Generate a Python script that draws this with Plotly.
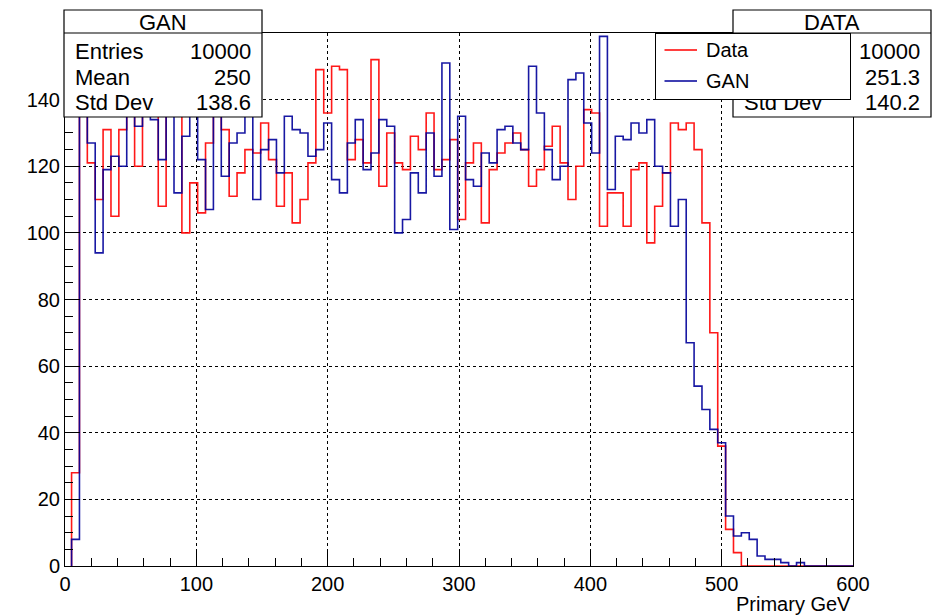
import plotly.graph_objects as go

# ---- data (100 bins of width 6 GeV, first edge at 5 GeV) ----
bin_start = 5
bin_width = 6
data_counts = [28, 140, 121, 110, 131, 105, 131, 145, 120, 138,
               137, 108, 142, 139, 100, 115, 106, 127, 140, 131,
               111, 118, 125, 124, 133, 122, 108, 118, 103, 110,
               121, 149, 136, 150, 149, 122, 128, 121, 152, 114,
               130, 121, 119, 129, 125, 136, 119, 122, 128, 104,
               121, 127, 103, 119, 124, 127, 130, 125, 114, 119,
               126, 132, 121, 110, 120, 137, 136, 102, 112, 112,
               102, 119, 121, 97, 108, 118, 133, 131, 133, 125,
               103, 70, 36, 11, 4, 0, 0, 0, 0, 0,
               0, 0, 0, 0, 0, 0, 0, 0, 0, 0]
gan_counts = [8, 141, 127, 94, 119, 123, 120, 138, 132, 143,
              134, 122, 139, 112, 129, 137, 122, 107, 140, 117,
              127, 130, 138, 110, 125, 128, 118, 135, 131, 130,
              123, 125, 133, 116, 112, 127, 134, 119, 124, 134,
              132, 100, 104, 118, 112, 130, 117, 151, 101, 135,
              116, 114, 124, 121, 131, 132, 127, 125, 150, 136,
              125, 116, 120, 146, 148, 133, 124, 159, 113, 129,
              128, 133, 130, 134, 120, 118, 102, 110, 67, 54,
              47, 41, 37, 15, 9, 10, 8, 3, 2, 2,
              1, 0, 1, 0, 0, 0, 0, 0, 0, 0]

x_ticks = [0, 100, 200, 300, 400, 500, 600]
y_ticks = [0, 20, 40, 60, 80, 100, 120, 140]

gan_stats = [("Entries", "10000"), ("Mean", "250"), ("Std Dev", "138.6")]
# in the DATA box the "Entries" and "Mean" labels sit fully behind the legend
data_stats = [("", "10000"), ("", "251.3"), ("Std Dev", "140.2")]

FONT = "Liberation Sans, Arial, Helvetica, sans-serif"
RED = "#ff0000"
BLUE = "#00009a"

edges = [bin_start + bin_width * i for i in range(len(data_counts) + 1)]


def step_xy(counts):
    xs = [edges[0]] + edges[:-1] + [edges[-1], edges[-1]]
    ys = [0] + list(counts) + [counts[-1], 0]
    return xs, ys


fig = go.Figure()
for counts, col, name in [(data_counts, RED, "Data"), (gan_counts, BLUE, "GAN")]:
    xs, ys = step_xy(counts)
    fig.add_trace(go.Scatter(x=xs, y=ys, mode="lines", line=dict(shape="hv", color=col, width=1.6),
                             name=name, showlegend=False, opacity=0.9))

# plot area in pixels
L, R, T, B = 65, 853, 33, 566
W, H = 933, 615


def XP(px):
    return (px - L) / (R - L)


def YP(py):
    return (B - py) / (B - T)


fig.update_layout(
    width=W, height=H,
    margin=dict(l=L, r=W - R, t=T, b=H - B),
    paper_bgcolor="white", plot_bgcolor="white",
    font=dict(family=FONT, size=20, color="black"),
    showlegend=False,
)
fig.update_xaxes(range=[0, 600], tickvals=x_ticks, ticks="inside", ticklen=15, tickcolor="black",
                 tickwidth=1, showline=True, linecolor="black", linewidth=1, mirror=True,
                 showgrid=True, gridcolor="black", gridwidth=1, griddash="dot", zeroline=False,
                 minor=dict(dtick=20, ticks="inside", ticklen=8, tickcolor="black", showgrid=False),
                 tickfont=dict(size=20, family=FONT))
fig.update_yaxes(range=[0, 160], tickvals=y_ticks, ticks="inside", ticklen=15, tickcolor="black",
                 tickwidth=1, showline=True, linecolor="black", linewidth=1, mirror=True,
                 showgrid=True, gridcolor="black", gridwidth=1, griddash="dot", zeroline=False,
                 minor=dict(dtick=5, ticks="inside", ticklen=8, tickcolor="black", showgrid=False),
                 tickfont=dict(size=20, family=FONT))

shapes = []
annots = []


def stat_box(x0, x1, y0, y1, ydiv, title, rows, annots_list):
    shapes.append(dict(type="rect", xref="paper", yref="paper", x0=XP(x0), x1=XP(x1), y0=YP(y1), y1=YP(y0),
                       fillcolor="white", line=dict(color="black", width=1.2), layer="above"))
    shapes.append(dict(type="line", xref="paper", yref="paper", x0=XP(x0), x1=XP(x1), y0=YP(ydiv), y1=YP(ydiv),
                       line=dict(color="black", width=1.2), layer="above"))
    annots_list.append(dict(xref="paper", yref="paper", x=XP((x0 + x1) / 2), y=YP((y0 + ydiv) / 2 + 1),
                            text=title, showarrow=False, xanchor="center", yanchor="middle",
                            font=dict(size=22, family=FONT, color="black")))
    for i, (lab, val) in enumerate(rows):
        yc = 51.5 + 25.5 * i
        if lab:
            annots_list.append(dict(xref="paper", yref="paper", x=XP(x0 + 9), y=YP(yc), text=lab,
                                    showarrow=False, xanchor="left", yanchor="middle",
                                    font=dict(size=22, family=FONT, color="black")))
        annots_list.append(dict(xref="paper", yref="paper", x=XP(x1 - 9), y=YP(yc), text=val, showarrow=False,
                                xanchor="right", yanchor="middle", font=dict(size=22, family=FONT, color="black")))


stat_box(64, 262, 10, 117, 33, "GAN", gan_stats, annots)
stat_box(733, 931, 10, 117, 33, "DATA", data_stats, annots)

# legend box drawn as an annotation so it covers the DATA box text beneath it
lx0, lx1, ly0, ly1 = 655, 851, 33, 100
annots.append(dict(xref="paper", yref="paper", x=XP((lx0 + lx1) / 2), y=YP((ly0 + ly1) / 2), text=" ",
                   showarrow=False, xanchor="center", yanchor="middle", width=lx1 - lx0 - 2,
                   height=ly1 - ly0 - 2, borderpad=0, bgcolor="white", bordercolor="black", borderwidth=1))
for name, col, yc in [("Data", RED, 50), ("GAN", BLUE, 81)]:
    annots.append(dict(xref="paper", yref="paper", x=XP(697), y=YP(yc), ax=-34, ay=0, text="",
                       showarrow=True, arrowhead=0, arrowwidth=1.5, arrowcolor=col, standoff=0,
                       startstandoff=0))
    annots.append(dict(xref="paper", yref="paper", x=XP(704), y=YP(yc), text=name, showarrow=False,
                       xanchor="left", yanchor="middle", font=dict(size=20, family=FONT, color="black")))

# x-axis title
annots.append(dict(xref="paper", yref="paper", x=XP(853), y=YP(604), text="Primary GeV", showarrow=False,
                   xanchor="right", yanchor="middle", font=dict(size=20, family=FONT, color="black")))

fig.update_layout(shapes=shapes, annotations=annots)
fig.write_html("out.html")
